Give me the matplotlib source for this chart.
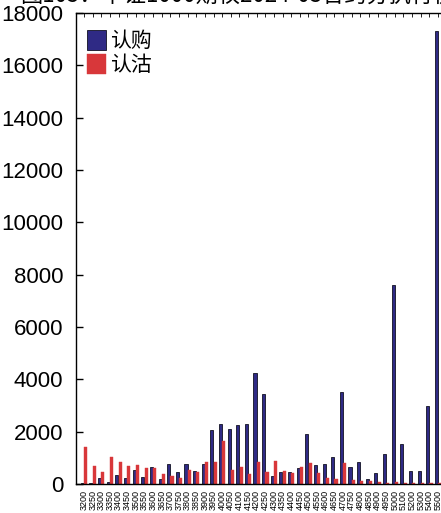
import matplotlib
matplotlib.use("Agg")
import matplotlib.pyplot as plt
import numpy as np

plt.rcParams['font.family'] = ['Liberation Sans', 'Noto Sans CJK SC', 'DejaVu Sans']

strikes = [str(s) for s in range(3200, 5001, 50)] + ['5100', '5200', '5300', '5400', '5500']
calls = [50, 50, 220, 60, 340, 220, 535, 250, 650, 190, 775, 445, 750, 510, 765,
         2060, 2290, 2100, 2250, 2280, 4250, 3440, 320, 445, 445, 625, 1910, 725,
         765, 1020, 3530, 650, 840, 180, 410, 1150, 7600, 1530, 500, 500, 2970, 17300]
puts = [1410, 690, 470, 1020, 830, 690, 725, 600, 610, 370, 305, 230, 535, 460, 830,
        830, 1640, 535, 640, 380, 840, 445, 865, 495, 410, 640, 790, 410,
        240, 200, 790, 150, 100, 100, 75, 50, 75, 40, 30, 30, 40, 20]

title = '图105：中证1000期权2024-03合约分执行价持仓'

fig = plt.figure(figsize=(4.41, 5.13), dpi=100)
ax = fig.add_axes([76 / 441, 1 - 484 / 513, (446 - 76) / 441, 471 / 513])

x = np.arange(len(strikes))
ax.bar(x - 0.19, calls, width=0.36, color='#2f2a85', edgecolor='#111122', linewidth=0.6, label='认购')
ax.bar(x + 0.19, puts, width=0.36, color='#d8373a', edgecolor='#d8373a', linewidth=0.3, label='认沽')

ax.set_xlim(-0.93, len(strikes) - 0.07)
ax.set_ylim(0, 18000)
ax.set_yticks(np.arange(0, 18001, 2000))
ax.set_xticks(x)
ax.set_xticklabels(strikes, rotation=90, fontsize=6.5)
ax.tick_params(axis='y', direction='in', length=5, labelsize=16, width=1, pad=9)
ax.tick_params(axis='x', direction='in', length=3, bottom=False, top=True, pad=4, width=0.6)
for s in ax.spines.values():
    s.set_linewidth(1)

leg = ax.legend(loc='upper left', frameon=False, prop={'family': ['Noto Sans CJK SC'], 'size': 15},
                handlelength=0.9, handleheight=1.1, handletextpad=0.2, labelspacing=0.1,
                borderaxespad=0.3, bbox_to_anchor=(-0.01, 0.995))

fig.text(20 / 441, 1.008, title, fontsize=16, ha='left', va='center',
         family=['Noto Sans CJK SC', 'DejaVu Sans'])

fig.savefig('out.png', dpi=100)
